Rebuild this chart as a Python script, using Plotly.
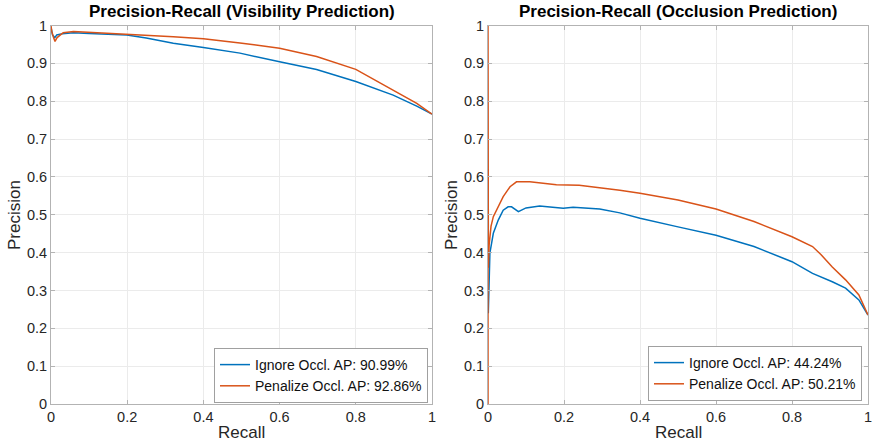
import plotly.graph_objects as go

# ---- data ----
vis_ignore_recall = [0, 0.004, 0.01, 0.015, 0.03, 0.059, 0.1, 0.15, 0.199, 0.25, 0.321, 0.4, 0.496, 0.6, 0.697, 0.8, 0.898, 0.96, 1.0]
vis_ignore_prec = [0.995, 0.975, 0.968, 0.975, 0.978, 0.981, 0.979, 0.977, 0.975, 0.967, 0.953, 0.942, 0.927, 0.904, 0.884, 0.852, 0.816, 0.787, 0.766]

vis_pen_recall = [0, 0.002, 0.006, 0.0105, 0.016, 0.032, 0.059, 0.1, 0.199, 0.321, 0.4, 0.496, 0.6, 0.697, 0.8, 0.898, 0.96, 1.0]
vis_pen_prec = [1.0, 0.985, 0.97, 0.958, 0.968, 0.981, 0.984, 0.982, 0.977, 0.970, 0.965, 0.954, 0.940, 0.918, 0.884, 0.83, 0.794, 0.766]

occ_ignore_recall = [0.0008, 0.005, 0.014, 0.027, 0.04, 0.053, 0.062, 0.08, 0.1, 0.136, 0.17, 0.198, 0.224, 0.294, 0.347, 0.4, 0.5, 0.6, 0.7, 0.8, 0.854, 0.906, 0.941, 0.976, 1.0]
occ_ignore_prec = [0.24, 0.399, 0.451, 0.486, 0.512, 0.521, 0.521, 0.508, 0.518, 0.523, 0.52, 0.517, 0.52, 0.515, 0.505, 0.491, 0.468, 0.446, 0.416, 0.376, 0.345, 0.323, 0.306, 0.275, 0.235]

occ_pen_recall = [0, 0, 0.001, 0.003, 0.008, 0.014, 0.023, 0.04, 0.058, 0.075, 0.11, 0.15, 0.18, 0.24, 0.294, 0.347, 0.4, 0.5, 0.6, 0.7, 0.8, 0.854, 0.876, 0.906, 0.941, 0.976, 1.0]
occ_pen_prec = [0, 1.0, 0.36, 0.42, 0.47, 0.495, 0.514, 0.548, 0.574, 0.587, 0.587, 0.583, 0.579, 0.578, 0.572, 0.565, 0.557, 0.539, 0.515, 0.482, 0.442, 0.416, 0.395, 0.362, 0.328, 0.288, 0.235]

labels_vis = ["Ignore Occl. AP: 90.99%", "Penalize Occl. AP: 92.86%"]
labels_occ = ["Ignore Occl. AP: 44.24%", "Penalize Occl. AP: 50.21%"]
titles = ["Precision-Recall (Visibility Prediction)", "Precision-Recall (Occlusion Prediction)"]

x_ticks = [0, 0.2, 0.4, 0.6, 0.8, 1]
x_tick_text = ["0", "0.2", "0.4", "0.6", "0.8", "1"]
y_ticks = [0, 0.1, 0.2, 0.3, 0.4, 0.5, 0.6, 0.7, 0.8, 0.9, 1]
y_tick_text = ["0", "0.1", "0.2", "0.3", "0.4", "0.5", "0.6", "0.7", "0.8", "0.9", "1"]

BLUE = "#0072BD"
ORANGE = "#D95319"
FONT = "Liberation Sans"
W, H = 874, 444

fig = go.Figure()
fig.add_trace(go.Scatter(x=vis_ignore_recall, y=vis_ignore_prec, mode="lines", name=labels_vis[0],
                         line=dict(color=BLUE, width=1.5), xaxis="x", yaxis="y", legend="legend"))
fig.add_trace(go.Scatter(x=vis_pen_recall, y=vis_pen_prec, mode="lines", name=labels_vis[1],
                         line=dict(color=ORANGE, width=1.5), xaxis="x", yaxis="y", legend="legend"))
fig.add_trace(go.Scatter(x=occ_ignore_recall, y=occ_ignore_prec, mode="lines", name=labels_occ[0],
                         line=dict(color=BLUE, width=1.5), xaxis="x2", yaxis="y2", legend="legend2"))
fig.add_trace(go.Scatter(x=occ_pen_recall, y=occ_pen_prec, mode="lines", name=labels_occ[1],
                         line=dict(color=ORANGE, width=1.5), xaxis="x2", yaxis="y2", legend="legend2"))

ydom = [40 / H, (H - 25.5) / H]
ax_common = dict(range=[0, 1], showgrid=True, gridcolor="#ebebeb", gridwidth=1,
                 showline=True, linecolor="#b3b3b3", linewidth=1, mirror="ticks",
                 ticks="inside", ticklen=4, tickcolor="#b3b3b3", zeroline=False, automargin=False,
                 tickfont=dict(family=FONT, size=14.5, color="#262626"), fixedrange=True)

fig.update_layout(
    width=W, height=H,
    margin=dict(l=0, r=0, t=0, b=0, autoexpand=False),
    paper_bgcolor="white", plot_bgcolor="white",
    font=dict(family=FONT, color="#262626"),
    xaxis=dict(domain=[51 / W, 432 / W], anchor="y", tickvals=x_ticks, ticktext=x_tick_text, **ax_common),
    yaxis=dict(domain=ydom, anchor="x", tickvals=y_ticks, ticktext=y_tick_text, **ax_common),
    xaxis2=dict(domain=[488 / W, 868 / W], anchor="y2", tickvals=x_ticks, ticktext=x_tick_text, **ax_common),
    yaxis2=dict(domain=ydom, anchor="x2", tickvals=y_ticks, ticktext=y_tick_text, **ax_common),
    legend=dict(x=428 / W, y=41 / H, xanchor="right", yanchor="bottom", bgcolor="white",
                bordercolor="#a0a0a0", borderwidth=1, font=dict(family=FONT, size=14, color="#111111"),
                tracegroupgap=0, itemwidth=30),
    legend2=dict(x=862 / W, y=43 / H, xanchor="right", yanchor="bottom", bgcolor="white",
                 bordercolor="#a0a0a0", borderwidth=1, font=dict(family=FONT, size=14, color="#111111"),
                 tracegroupgap=0, itemwidth=30),
    showlegend=True,
)

annotations = [
    dict(text="<b>%s</b>" % titles[0], x=241.5 / W, y=1 - 12 / H, xref="paper", yref="paper",
         showarrow=False, xanchor="center", yanchor="middle", font=dict(family=FONT, size=17, color="#000000")),
    dict(text="<b>%s</b>" % titles[1], x=678 / W, y=1 - 12 / H, xref="paper", yref="paper",
         showarrow=False, xanchor="center", yanchor="middle", font=dict(family=FONT, size=17, color="#000000")),
    dict(text="Recall", x=241.5 / W, y=1 - 432 / H, xref="paper", yref="paper",
         showarrow=False, xanchor="center", yanchor="middle", font=dict(family=FONT, size=17, color="#262626")),
    dict(text="Recall", x=678 / W, y=1 - 432 / H, xref="paper", yref="paper",
         showarrow=False, xanchor="center", yanchor="middle", font=dict(family=FONT, size=17, color="#262626")),
    dict(text="Precision", x=14 / W, y=1 - 215 / H, xref="paper", yref="paper", textangle=-90,
         showarrow=False, xanchor="center", yanchor="middle", font=dict(family=FONT, size=17, color="#262626")),
    dict(text="Precision", x=451 / W, y=1 - 215 / H, xref="paper", yref="paper", textangle=-90,
         showarrow=False, xanchor="center", yanchor="middle", font=dict(family=FONT, size=17, color="#262626")),
]
fig.update_layout(annotations=annotations)

fig.write_html("out.html", config={"displayModeBar": False},
               post_script="document.body.style.margin='0';document.body.style.padding='0';")
